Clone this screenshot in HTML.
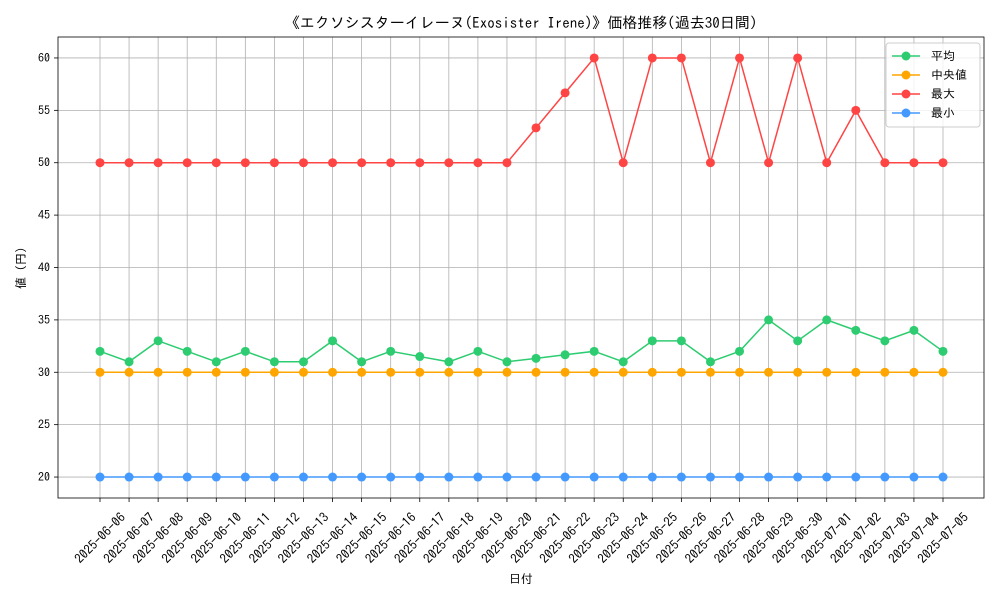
<!DOCTYPE html>
<html><head><meta charset="utf-8"><style>
html,body{margin:0;padding:0;background:#fff;}
svg{display:block;font-family:"IPAGothic","Liberation Sans","Noto Sans CJK JP",sans-serif;}
</style></head><body>
<svg id="chart" width="1000" height="600" viewBox="0 0 1000 600"></svg>
<script>
const dates=["2025-06-06","2025-06-07","2025-06-08","2025-06-09","2025-06-10","2025-06-11","2025-06-12","2025-06-13","2025-06-14","2025-06-15","2025-06-16","2025-06-17","2025-06-18","2025-06-19","2025-06-20","2025-06-21","2025-06-22","2025-06-23","2025-06-24","2025-06-25","2025-06-26","2025-06-27","2025-06-28","2025-06-29","2025-06-30","2025-07-01","2025-07-02","2025-07-03","2025-07-04","2025-07-05"];
const avgValues=[32,31,33,32,31,32,31,31,33,31,32,31.5,31,32,31,31.33,31.67,32,31,33,33,31,32,35,33,35,34,33,34,32];
const medianValues=[30,30,30,30,30,30,30,30,30,30,30,30,30,30,30,30,30,30,30,30,30,30,30,30,30,30,30,30,30,30];
const maxValues=[50,50,50,50,50,50,50,50,50,50,50,50,50,50,50,53.33,56.67,60,50,60,60,50,60,50,60,50,55,50,50,50];
const minValues=[20,20,20,20,20,20,20,20,20,20,20,20,20,20,20,20,20,20,20,20,20,20,20,20,20,20,20,20,20,20];
const yTicks=[20,25,30,35,40,45,50,55,60];
const seriesNames=["平均","中央値","最大","最小"];

const NS="http://www.w3.org/2000/svg";
const svg=document.getElementById("chart");
const L=58,R=984,T=37,B=498;
const yMin=18,yMax=62;
const xScale=i=>100+i*(943-100)/(dates.length-1);
const yScale=v=>B-(v-yMin)/(yMax-yMin)*(B-T);
function mk(tag,attrs,parent){const e=document.createElementNS(NS,tag);for(const k in attrs)e.setAttribute(k,attrs[k]);(parent||svg).appendChild(e);return e;}

const grid=mk("g",{});


dates.forEach((d,i)=>{const x=xScale(i);mk("line",{x1:x,x2:x,y1:T,y2:B,stroke:"#b0b0b0","stroke-width":0.8},grid);});
yTicks.forEach(v=>{const y=yScale(v);mk("line",{x1:L,x2:R,y1:y,y2:y,stroke:"#b0b0b0","stroke-width":0.8},grid);});

const frame=mk("rect",{x:L,y:T,width:R-L,height:B-T,fill:"none",stroke:"#000","stroke-width":0.8});



const yAxis=mk("g",{});


yTicks.forEach(v=>{const y=yScale(v);mk("line",{x1:L-4,x2:L,y1:y,y2:y,stroke:"#000","stroke-width":0.8},yAxis);
 const t=mk("text",{x:L-8,y:y+4,"text-anchor":"end","font-size":12},yAxis);t.textContent=v;
 
 });

const xAxis=mk("g",{});


dates.forEach((d,i)=>{const x=xScale(i);mk("line",{x1:x,x2:x,y1:B,y2:B+4,stroke:"#000","stroke-width":0.8},xAxis);
 const cy=538;
 const t=mk("text",{x:x,y:cy+4.5,"text-anchor":"middle","font-size":13,transform:`rotate(-45 ${x} ${cy})`},xAxis);t.textContent=d;
 
 });

const colors=["#2ecc71","#ffa500","#ff4444","#4499ff"];
const allSeries=[avgValues,medianValues,maxValues,minValues];
const snames=["series-average","series-median","series-max","series-min"];
allSeries.forEach((vals,si)=>{
 const g=mk("g",{});
 
 
 mk("polyline",{points:vals.map((v,i)=>xScale(i)+","+yScale(v)).join(" "),fill:"none",stroke:colors[si],"stroke-width":1.5},g);
 vals.forEach((v,i)=>{const c=mk("circle",{cx:xScale(i),cy:yScale(v),r:4.5,fill:colors[si]},g);
  
  });
});

const title=mk("text",{x:521,y:28,"text-anchor":"middle","font-size":15});
title.textContent="《エクソシスターイレーヌ(Exosister Irene)》価格推移(過去30日間)";


const xl=mk("text",{x:521,y:583,"text-anchor":"middle","font-size":12});
xl.textContent="日付";


const yl=mk("text",{x:25,y:268,"text-anchor":"middle","font-size":12,transform:"rotate(-90 25 268)"});
yl.textContent="値 (円)";



const leg=mk("g",{});


mk("rect",{x:886,y:43,width:94,height:84,rx:3,fill:"#fff","fill-opacity":0.8,stroke:"#ccc"},leg);
seriesNames.forEach((n,i)=>{const y=56+i*19;
 const e=mk("g",{},leg);
 
 
 mk("line",{x1:892,x2:920,y1:y,y2:y,stroke:colors[i],"stroke-width":1.5},e);
 mk("circle",{cx:906,cy:y,r:4.5,fill:colors[i]},e);
 const t=mk("text",{x:931,y:y+4,"font-size":12},e);t.textContent=n;});
</script>
</body></html>
